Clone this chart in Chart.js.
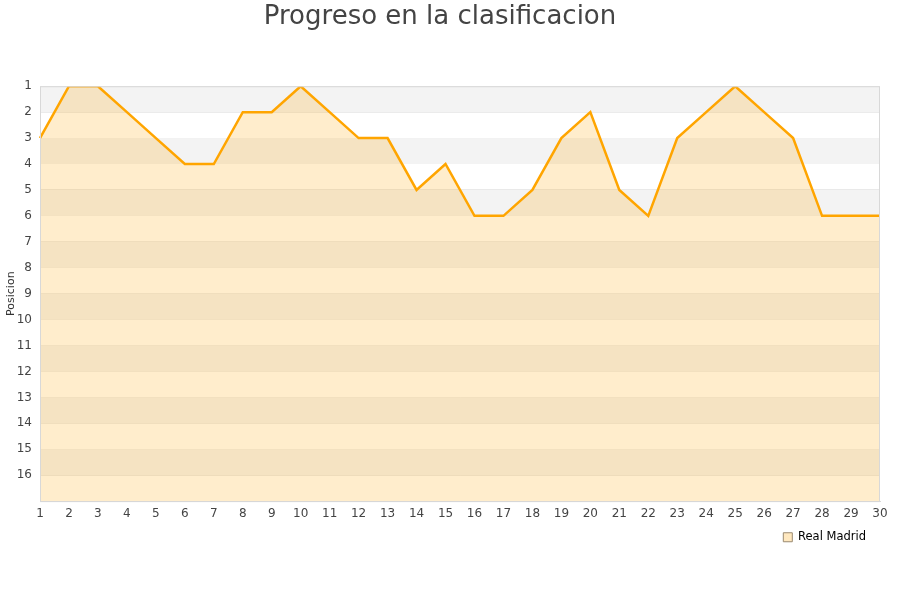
<!DOCTYPE html>
<html><head><meta charset="utf-8">
<script src="https://cdn.jsdelivr.net/npm/chart.js@4/dist/chart.umd.min.js"></script>
<style>html,body{margin:0;padding:0;background:#fff}#wrap{width:900px;height:600px}</style>
</head><body><div id="wrap"><canvas id="c" width="900" height="600"></canvas></div>
<script>
const rounds = ['1','2','3','4','5','6','7','8','9','10','11','12','13','14','15','16','17','18','19','20','21','22','23','24','25','26','27','28','29','30'];
const positions = [3,1,1,2,3,4,4,2,2,1,2,3,3,5,4,6,6,5,3,2,5,6,3,2,1,2,3,6,6,6];
const teamName = 'Real Madrid';
const chartTitle = 'Progreso en la clasificacion';
const yTitle = 'Posicion';

const bands = {
  id: 'bands',
  afterLayout(chart) {
    if (chart.legend) { chart.legend.left -= 10; chart.legend.right -= 10; }
  },
  beforeDatasetsDraw(chart) {
    const {ctx, chartArea: a, scales: {y}} = chart;
    ctx.save();
    ctx.fillStyle = '#f3f3f3';
    for (let k = 1; k < 17; k += 2) {
      const t = y.getPixelForValue(k), b = y.getPixelForValue(k + 1);
      ctx.fillRect(a.left, t, a.right - a.left, b - t);
    }
    ctx.restore();
  },
  afterDatasetsDraw(chart) {
    const {ctx, chartArea: a} = chart;
    ctx.save();
    ctx.strokeStyle = '#d8d8d8';
    ctx.lineWidth = 1;
    ctx.strokeRect(a.left + 0.5, a.top + 0.5, a.right - a.left - 1, a.bottom - a.top);
    ctx.restore();
  }
};

new Chart(document.getElementById('c'), {
  type: 'line',
  data: {
    labels: rounds,
    datasets: [{
      label: teamName,
      data: positions,
      borderColor: '#FFA500',
      backgroundColor: 'rgba(255,165,0,0.2)',
      borderWidth: 2.5,
      pointRadius: 0,
      tension: 0,
      fill: 'start'
    }]
  },
  options: {
    responsive: false,
    animation: false,
    layout: {padding: {left: 0, right: 20, top: 2, bottom: 47}},
    plugins: {
      title: {
        display: true, text: chartTitle, color: '#444',
        font: {family: 'DejaVu Sans', size: 26, weight: 'normal'},
        padding: {top: 0, bottom: 53}
      },
      legend: {
        position: 'bottom', align: 'end',
        labels: {
          boxWidth: 9, boxHeight: 9, color: '#222', padding: 4,
          font: {family: 'DejaVu Sans', size: 11.5},
          generateLabels(chart) {
            return [{text: teamName, fillStyle: 'rgba(255,165,0,0.25)', strokeStyle: '#9a8a70', lineWidth: 1, datasetIndex: 0}];
          }
        }
      },
      tooltip: {enabled: false}
    },
    scales: {
      x: {
        offset: false,
        grid: {display: false, drawTicks: false},
        border: {color: '#d8d8d8'},
        ticks: {color: '#444', font: {family: 'DejaVu Sans', size: 12}, maxRotation: 0, autoSkip: false, padding: 6}
      },
      y: {
        reverse: true, min: 1, max: 17,
        title: {display: true, text: yTitle, color: '#333', font: {family: 'DejaVu Sans', size: 11}, padding: {top: 5, bottom: 0}},
        grid: {color: 'rgba(0,0,0,0.09)', drawTicks: false},
        border: {color: '#d8d8d8'},
        afterFit(scale) { scale.width = 40; },
        ticks: {stepSize: 1, color: '#444', font: {family: 'DejaVu Sans', size: 12}, padding: 8,
          callback: v => v === 17 ? '' : String(v)}
      }
    }
  },
  plugins: [bands]
});
</script></body></html>
